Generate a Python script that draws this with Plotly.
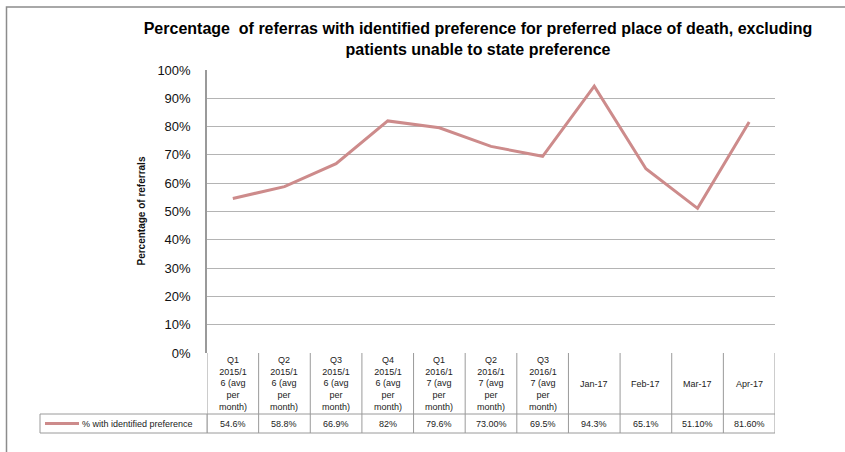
import plotly.graph_objects as go

categories = [
    "Q1<br>2015/1<br>6 (avg<br>per<br>month)",
    "Q2<br>2015/1<br>6 (avg<br>per<br>month)",
    "Q3<br>2015/1<br>6 (avg<br>per<br>month)",
    "Q4<br>2015/1<br>6 (avg<br>per<br>month)",
    "Q1<br>2016/1<br>7 (avg<br>per<br>month)",
    "Q2<br>2016/1<br>7 (avg<br>per<br>month)",
    "Q3<br>2016/1<br>7 (avg<br>per<br>month)",
    "Jan-17", "Feb-17", "Mar-17", "Apr-17",
]
values = [0.546, 0.588, 0.669, 0.82, 0.796, 0.730, 0.695, 0.943, 0.651, 0.511, 0.816]
value_labels = ["54.6%", "58.8%", "66.9%", "82%", "79.6%", "73.00%", "69.5%",
                "94.3%", "65.1%", "51.10%", "81.60%"]
series_name = "% with identified preference"

W, H = 845, 452
L, R, T, B = 207, 775, 70, 353   # plot area in pixels
LINE = "#CD8B8B"
GRID = "#B4B4B4"
BORDER = "#9A9A9A"
FONT = "Liberation Sans"


def py(p):
    # pixel row -> paper y
    return (B - p) / (B - T)


def px(p):
    return (p - L) / (R - L)


idx = list(range(len(values)))

fig = go.Figure(
    go.Scatter(
        x=idx,
        y=values,
        mode="lines",
        line=dict(color=LINE, width=3),
        name=series_name,
        hoverinfo="skip",
    )
)

shapes = []
head_bot, val_bot = 414, 433
for yy in (head_bot, val_bot):
    shapes.append(dict(type="line", xref="x", yref="paper",
                       x0=-0.5, x1=len(values) - 0.5, y0=py(yy), y1=py(yy),
                       line=dict(color=BORDER, width=1)))
for i in range(len(values) + 1):
    shapes.append(dict(type="line", xref="x", yref="paper",
                       x0=i - 0.5, x1=i - 0.5, y0=py(B), y1=py(val_bot),
                       line=dict(color=BORDER, width=1)))
# legend cell
shapes.append(dict(type="rect", xref="paper", yref="paper",
                   x0=px(40), x1=px(L), y0=py(head_bot), y1=py(val_bot),
                   line=dict(color=BORDER, width=1)))
shapes.append(dict(type="line", xref="paper", yref="paper",
                   x0=px(45), x1=px(79), y0=py(423.5), y1=py(423.5),
                   line=dict(color=LINE, width=3)))
# outer chart frame (cut off at right/bottom)
shapes.append(dict(type="rect", xref="paper", yref="paper",
                   x0=px(6.5), x1=px(860), y0=py(7), y1=py(470),
                   line=dict(color="#8C8C8C", width=1.5)))

cell_font = dict(family=FONT, size=9, color="#222222")
annotations = []
for i, (cat, lab) in enumerate(zip(categories, value_labels)):
    annotations.append(dict(x=i, y=py((B + head_bot) / 2), xref="x", yref="paper",
                            xanchor="center", yanchor="middle",
                            text=cat, showarrow=False, font=cell_font))
    annotations.append(dict(x=i, y=py((head_bot + val_bot) / 2), xref="x", yref="paper",
                            xanchor="center", yanchor="middle",
                            text=lab, showarrow=False, font=cell_font))
annotations.append(dict(x=px(80), y=py(423.5), xref="paper", yref="paper",
                        xanchor="left", yanchor="middle", text=series_name,
                        showarrow=False, font=cell_font))
annotations.append(dict(x=px(141), y=py((T + B) / 2), xref="paper", yref="paper",
                        xanchor="center", yanchor="middle",
                        text="<b>Percentage of referrals</b>", textangle=-90,
                        showarrow=False,
                        font=dict(family="Liberation Sans Narrow, " + FONT, size=10,
                                  color="#111111")))

fig.update_layout(
    width=W,
    height=H,
    margin=dict(l=L, r=W - R, t=T, b=H - B, pad=0),
    paper_bgcolor="white",
    plot_bgcolor="white",
    showlegend=False,
    title=dict(
        text="<b>Percentage  of referras with identified preference for preferred place of death, excluding<br>patients unable to state preference</b>",
        x=478 / W, xanchor="center", y=1 - 34 / H, yanchor="middle",
        font=dict(family=FONT, size=16, color="#000000"),
    ),
    shapes=shapes,
    annotations=annotations,
)
fig.update_xaxes(range=[-0.5, len(values) - 0.5], showticklabels=False,
                 showgrid=False, zeroline=False, showline=False, fixedrange=True)
fig.update_yaxes(range=[0, 1], dtick=0.1, tickformat=".0%",
                 showgrid=True, gridcolor=GRID, gridwidth=1,
                 zeroline=False, showline=True, linecolor="#9A9A9A", linewidth=1.5,
                 ticks="", ticklabelstandoff=12,
                 tickfont=dict(family=FONT, size=13, color="#111111"),
                 fixedrange=True)

# drop the default body margin so the figure sits at the window origin
fig.write_html("out.html", config={"displayModeBar": False},
               post_script="document.body.style.margin='0';document.body.style.overflow='hidden';")
